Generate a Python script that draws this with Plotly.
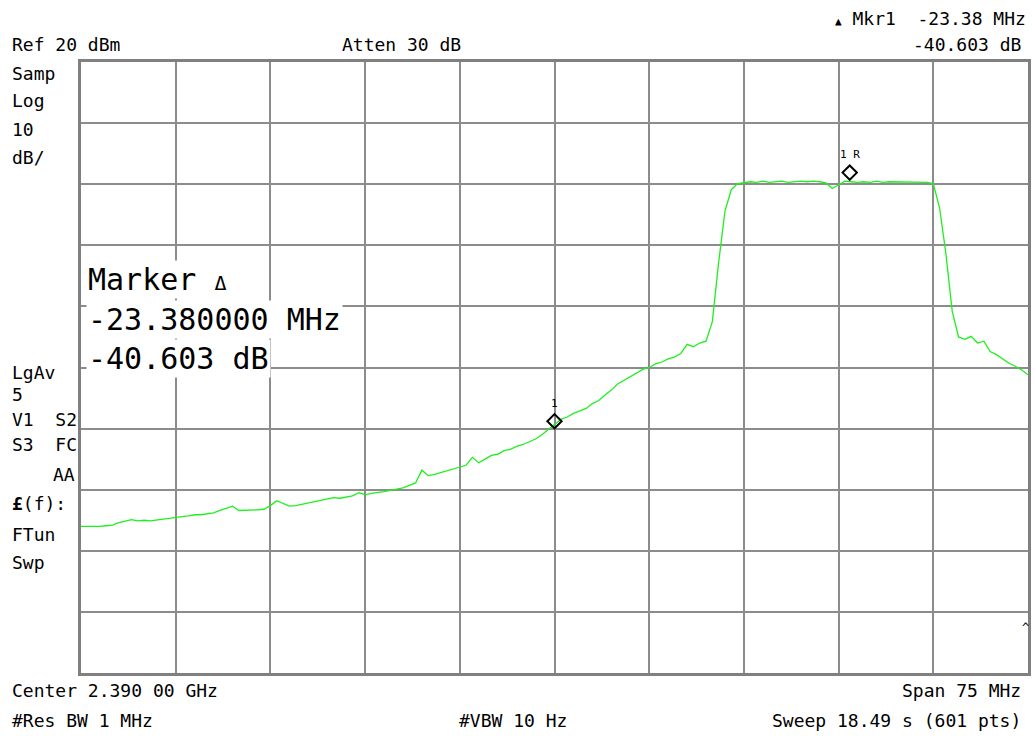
import numpy as np
import plotly.graph_objects as go

# instrument settings
center_ghz = 2.390
span_mhz = 75.0
ref_dbm = 20
db_per_div = 10
n_points = 151

# trace levels (dBm), left to right
levels = [
    -56.0, -56.0, -56.1, -56.0, -55.9, -55.8, -55.4, -55.1, -54.9, -55.1,
    -55.0, -55.1, -54.9, -54.8, -54.7, -54.5, -54.4, -54.3, -54.1, -54.1,
    -53.9, -53.8, -53.4, -53.0, -52.7, -53.4, -53.4, -53.3, -53.3, -53.2,
    -52.6, -51.8, -52.3, -52.7, -52.6, -52.4, -52.2, -52.0, -51.8, -51.5,
    -51.3, -51.4, -51.2, -51.0, -50.5, -50.8, -50.6, -50.5, -50.3, -50.1,
    -49.9, -49.7, -49.3, -48.9, -46.8, -47.7, -47.5, -47.2, -47.0, -46.6,
    -46.3, -46.0, -44.7, -45.6, -45.0, -44.4, -44.2, -43.6, -43.4, -42.9,
    -42.6, -42.1, -41.7, -41.0, -40.2, -39.3, -38.5, -38.1, -37.5, -37.1,
    -36.7, -35.9, -35.4, -34.5, -33.7, -32.7, -32.1, -31.5, -31.0, -30.3,
    -30.0, -29.4, -29.1, -28.6, -28.3, -27.7, -26.2, -26.6, -26.0, -25.7,
    -22.5, -12.8, -4.4, -0.9, 0.1, 0.3, 0.4, 0.3, 0.5, 0.3,
    0.4, 0.5, 0.3, 0.4, 0.5, 0.4, 0.5, 0.4, 0.2, -0.7,
    -0.1, 0.5, 0.4, 0.3, 0.4, 0.3, 0.5, 0.3, 0.4, 0.4,
    0.3, 0.4, 0.3, 0.4, 0.3, 0.1, -3.9, -11.4, -20.8, -25.0,
    -25.4, -24.9, -26.0, -25.7, -27.4, -27.9, -28.6, -29.3, -29.8, -30.4,
    -31.2,
]

# markers
marker_freq = [2.390, 2.41338]
marker_level = [-38.8, 1.9]
marker_labels = ["1", "1 R"]

start = center_ghz - span_mhz / 2000
stop = center_ghz + span_mhz / 2000
freq = np.linspace(start, stop, n_points)

# plot area in pixels
L, R, T, B = 81, 1031, 62, 673
W, H = 1035, 736


def paper(x, y):
    return (x - L) / (R - L), (B - y) / (B - T)


fig = go.Figure()
fig.add_trace(go.Scatter(
    x=freq, y=levels, mode="lines",
    line=dict(color="#1ef01e", width=1.3),
    hoverinfo="skip",
))
fig.add_trace(go.Scatter(
    x=marker_freq, y=marker_level, mode="markers",
    marker=dict(symbol="diamond-open", size=11, color="black",
                line=dict(width=2, color="black")),
    hoverinfo="skip",
))

mono = "DejaVu Sans Mono"
annotations = []
for f, lv, lab in zip(marker_freq, marker_level, marker_labels):
    annotations.append(dict(
        x=f, y=lv, xref="x", yref="y", text=lab, showarrow=False,
        yshift=18, font=dict(family=mono, size=11, color="black"),
    ))

texts = [
    # text, x px, y px, anchor, size
    ("Ref 20 dBm", 10, 45, "left", 18),
    ("Atten 30 dB", 341, 45, "left", 18),
    ("<span style='font-size:11px'>▲</span> Mkr1  -23.38 MHz", 1031, 18, "right", 18),
    ("-40.603 dB", 1026, 45, "right", 18),
    ("Samp", 10, 74, "left", 18),
    ("Log", 10, 101, "left", 18),
    ("10", 10, 129, "left", 18),
    ("dB/", 10, 158, "left", 18),
    ("LgAv", 10, 372, "left", 18),
    ("5", 10, 394, "left", 18),
    ("V1  S2", 10, 419, "left", 18),
    ("S3  FC", 10, 444, "left", 18),
    ("AA", 77, 474, "right", 18),
    ("<b>£</b>(f):", 10, 504, "left", 18),
    ("FTun", 10, 534, "left", 18),
    ("Swp", 10, 562, "left", 18),
    ("Center 2.390 00 GHz", 10, 690, "left", 18),
    ("Span 75 MHz", 1026, 690, "right", 18),
    ("#Res BW 1 MHz", 10, 720, "left", 18),
    ("#VBW 10 Hz", 458, 720, "left", 18),
    ("Sweep 18.49 s (601 pts)", 1026, 720, "right", 18),
    ("^", 1028, 628, "center", 12),
]
for txt, x, y, anchor, size in texts:
    px, py = paper(x, y)
    annotations.append(dict(
        x=px, y=py, xref="paper", yref="paper", text=txt, showarrow=False,
        xanchor=anchor, yanchor="middle",
        font=dict(family=mono, size=size, color="black"),
    ))

# big marker readout, each line on its own white box
big = [("Marker <span style='font-size:20px'>Δ</span>", 279),
       ("-23.380000 MHz", 319),
       ("-40.603 dB", 358)]
for txt, y in big:
    px, py = paper(86, y)
    annotations.append(dict(
        x=px, y=py, xref="paper", yref="paper", text=txt, showarrow=False,
        xanchor="left", yanchor="middle", bgcolor="white", borderpad=1,
        font=dict(family=mono, size=30, color="black"),
    ))

grid = dict(showgrid=True, gridcolor="#8c8c8c", gridwidth=2,
            showline=True, linecolor="#808080", linewidth=3, mirror=True,
            zeroline=False, showticklabels=False, ticks="")

fig.update_xaxes(range=[start, stop], tick0=start, dtick=span_mhz / 10000, **grid)
fig.update_yaxes(range=[ref_dbm - 10 * db_per_div, ref_dbm], tick0=ref_dbm,
                 dtick=db_per_div, **grid)

fig.update_layout(
    width=W, height=H,
    margin=dict(l=L, r=W - R, t=T, b=H - B),
    paper_bgcolor="white", plot_bgcolor="white",
    showlegend=False,
    annotations=annotations,
)

# drop the page's default body margin so the figure sits at the corner
fig.write_html("out.html", config={"displayModeBar": False},
               post_script="document.body.style.margin='0';document.body.style.overflow='hidden';")
